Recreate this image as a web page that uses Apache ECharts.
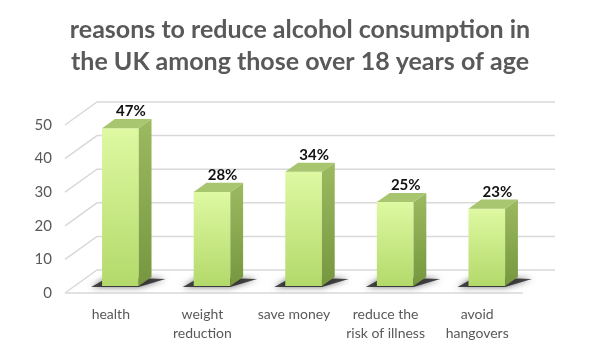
<!DOCTYPE html>
<html lang="en">
<head>
    <meta charset="UTF-8">
    <script src="https://cdn.jsdelivr.net/npm/echarts@6.0.0/dist/echarts.min.js"></script>
    <style>
        html, body { margin: 0; padding: 0; background: #fff; }
    </style>
</head>
<body>
    <div id="main" style="width: 600px; height: 354px;"></div>
    <script>
        var categories = ['health', 'weight\nreduction', 'save money', 'reduce the\nrisk of illness', 'avoid\nhangovers'];
        var values = [47, 28, 34, 25, 23];
        var yTicks = [0, 10, 20, 30, 40, 50];

        // oblique 3d look: offset from front plane to back wall
        var DX = 32, DY = -23;
        var T0 = 0.3, T1 = 0.7;   // bar depth, as fraction of floor depth
        var BAR_W = 0.4;          // bar width as fraction of category band
        var FONT = 'Lato, "Open Sans", sans-serif';

        var chart = echarts.init(document.getElementById('main'));

        function renderWalls(params, api) {
            var cs = params.coordSys;
            var y = api.coord([0, api.value(1)])[1];
            var xL = cs.x, xR = cs.x + cs.width;
            var style = { stroke: '#d9d9d9', lineWidth: 1.5, fill: null };
            var children = [{
                type: 'polyline',
                shape: { points: [[xL, y], [xL + DX, y + DY], [xR + DX, y + DY]] },
                style: style
            }];
            if (api.value(1) === 0) {
                children.push({
                    type: 'line',
                    shape: { x1: xL, y1: y, x2: xR, y2: y },
                    style: style
                });
            }
            return { type: 'group', children: children };
        }

        function renderBar(params, api) {
            var band = api.size([1, 0])[0];
            var base = api.coord([api.value(0), 0]);
            var top = api.coord([api.value(0), api.value(1)]);
            var w = band * BAR_W;
            var d = T1 - T0;
            var ddx = DX * d, ddy = DY * d;
            var x0 = base[0] - w / 2 + DX * T0;
            var yb = base[1] + DY * T0;
            var yt = top[1] + DY * T0;

            return {
                type: 'group',
                children: [{
                    type: 'polygon',
                    shape: { points: [[x0 - 11, yb + 1], [x0 + w, yb + 1], [x0 + w + ddx + 14, yb + ddy + 2], [x0 + ddx - 6, yb + ddy]] },
                    style: { fill: 'rgba(30,30,30,0.8)', shadowBlur: 6, shadowColor: 'rgba(0,0,0,0.7)' }
                }, {
                    type: 'rect',
                    shape: { x: x0, y: yt, width: w, height: yb - yt },
                    style: {
                        fill: new echarts.graphic.LinearGradient(0, 0, 0, 1, [
                            { offset: 0, color: '#def9a2' },
                            { offset: 1, color: '#b3d96a' }
                        ])
                    }
                }, {
                    type: 'polygon',
                    shape: { points: [[x0 + w, yt], [x0 + w + ddx, yt + ddy], [x0 + w + ddx, yb + ddy], [x0 + w, yb]] },
                    style: {
                        fill: new echarts.graphic.LinearGradient(0, 0, 0, 1, [
                            { offset: 0, color: '#9cba60' },
                            { offset: 1, color: '#76973f' }
                        ])
                    }
                }, {
                    type: 'polygon',
                    shape: { points: [[x0, yt], [x0 + w, yt], [x0 + w + ddx, yt + ddy], [x0 + ddx, yt + ddy]] },
                    style: { fill: '#a8c56f' }
                }, {
                    type: 'text',
                    style: {
                        text: api.value(1) + '%',
                        x: base[0] + DX * (T0 + 0.33),
                        y: yt + ddy,
                        align: 'center',
                        verticalAlign: 'bottom',
                        fill: '#111',
                        font: 'bold 15px ' + FONT
                    }
                }]
            };
        }

        chart.setOption({
            animation: false,
            title: {
                text: 'reasons to reduce alcohol consumption in\nthe UK among those over 18 years of age',
                left: 'center',
                top: 9,
                textStyle: {
                    fontFamily: FONT,
                    fontSize: 25,
                    fontWeight: 'bold',
                    color: '#595959',
                    lineHeight: 32
                }
            },
            grid: { left: 65, right: 77, top: 125, bottom: 61 },
            xAxis: {
                type: 'category',
                data: categories,
                axisLine: { show: false },
                axisTick: { show: false },
                axisLabel: {
                    interval: 0,
                    margin: 12,
                    color: '#595959',
                    fontFamily: FONT,
                    fontSize: 14,
                    lineHeight: 19
                }
            },
            yAxis: {
                type: 'value',
                min: 0,
                max: 50,
                interval: 10,
                axisLine: { show: false },
                axisTick: { show: false },
                splitLine: { show: false },
                axisLabel: {
                    margin: 13,
                    color: '#595959',
                    fontFamily: FONT,
                    fontSize: 15
                }
            },
            series: [{
                type: 'custom',
                renderItem: renderWalls,
                data: yTicks.map(function (v) { return [0, v]; }),
                silent: true,
                z: 1
            }, {
                type: 'custom',
                renderItem: renderBar,
                data: values.map(function (v, i) { return [i, v]; }),
                z: 2
            }]
        });
    </script>
</body>
</html>
